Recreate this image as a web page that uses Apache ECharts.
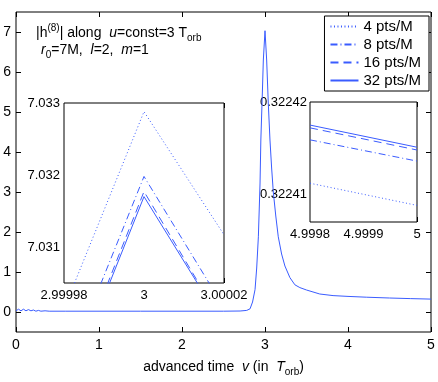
<!DOCTYPE html>
<html>
<head>
<meta charset="utf-8">
<script src="https://cdn.jsdelivr.net/npm/echarts@6/dist/echarts.min.js"></script>
<style>
html, body { margin: 0; padding: 0; background: #fff; }
#chart { width: 438px; height: 382px; }
</style>
</head>
<body>
<div id="chart"></div>
<script>
var FONT = '"Liberation Sans", Arial, sans-serif';
var LINE_COLOR = '#3a5cff';

// main plot: |h| along u = 3 T_orb (32 pts/M)
var mainV = [0, 0.03, 0.06, 0.09, 0.12, 0.15, 0.18, 0.21, 0.24, 0.27, 0.3, 0.35, 0.4, 0.6, 1.0, 1.5, 2.0, 2.5, 2.7, 2.78,
  2.82, 2.85, 2.88, 2.9, 2.92, 2.94, 2.95, 2.97, 2.98, 3.0, 3.02, 3.04, 3.06, 3.08, 3.1, 3.13, 3.16, 3.2, 3.24, 3.3,
  3.36, 3.42, 3.5, 3.66, 3.82, 4.0, 4.22, 4.5, 4.75, 5.0];
var mainH = [0.03, 0.07, 0.03, 0.07, 0.03, 0.06, 0.03, 0.05, 0.02, 0.04, 0.02, 0.03, 0.02, 0.02, 0.02, 0.02, 0.02, 0.02, 0.025, 0.04,
  0.08, 0.25, 0.56, 1.1, 1.88, 3.2, 4.3, 5.6, 6.3, 7.0317, 6.3, 5.2, 4.3, 3.6, 3.0, 2.4, 1.88, 1.45, 1.15, 0.86,
  0.68, 0.61, 0.55, 0.45, 0.41, 0.39, 0.37, 0.35, 0.335, 0.3224];
var mainXTicks = [0, 1, 2, 3, 4, 5];
var mainYTicks = [0, 1, 2, 3, 4, 5, 6, 7];

// inset near the peak, one array per resolution
var peakV = [2.99998, 3, 3.00002];
var peak4 = [7.03014, 7.03288, 7.03117];
var peak8 = [7.02922, 7.03198, 7.03016];
var peak16 = [7.02896, 7.03177, 7.02991];
var peak32 = [7.02891, 7.03170, 7.02990];
var peakXTicks = [2.99998, 3, 3.00002];
var peakYTicks = [7.031, 7.032, 7.033];

// inset at the end of the run
var tailV = [4.9998, 5];
var tail4 = [0.3224112, 0.3224088];
var tail8 = [0.3224159, 0.3224136];
var tail16 = [0.3224172, 0.3224148];
var tail32 = [0.3224175, 0.3224151];
var tailXTicks = [4.9998, 4.9999, 5];
var tailYTicks = [0.32241, 0.32242];

var resNames = ['4 pts/M', '8 pts/M', '16 pts/M', '32 pts/M'];
var resDash = [[1, 2.5], [7, 3, 1, 3], [8, 5], 'solid'];

function zip(xs, ys) {
  var out = [];
  for (var i = 0; i < xs.length; i++) out.push([xs[i], ys[i]]);
  return out;
}

function axis(grid, pos, min, max, ticks, labelSize, showLabel, margin) {
  return {
    type: 'value', gridIndex: grid, position: pos, min: min, max: max,
    axisLine: { show: false, onZero: false },
    splitLine: { show: false },
    axisTick: { customValues: ticks, inside: true, length: 5, lineStyle: { color: '#000' } },
    axisLabel: {
      show: showLabel, customValues: ticks, margin: margin,
      color: '#000', fontFamily: FONT, fontSize: labelSize
    }
  };
}

var chart = echarts.init(document.getElementById('chart'));

var series = [{
  name: '32 pts/M', type: 'line', xAxisIndex: 0, yAxisIndex: 0,
  symbol: 'none', data: zip(mainV, mainH),
  lineStyle: { color: LINE_COLOR, width: 1 }
}];
var peakSets = [peak4, peak8, peak16, peak32];
var tailSets = [tail4, tail8, tail16, tail32];
for (var i = 0; i < resNames.length; i++) {
  series.push({
    name: resNames[i], type: 'line', xAxisIndex: 2, yAxisIndex: 2,
    symbol: 'none', data: zip(peakV, peakSets[i]),
    itemStyle: { color: LINE_COLOR },
    lineStyle: { color: LINE_COLOR, width: 1, type: resDash[i] }
  });
  series.push({
    name: resNames[i], type: 'line', xAxisIndex: 4, yAxisIndex: 4,
    symbol: 'none', data: zip(tailV, tailSets[i]),
    itemStyle: { color: LINE_COLOR },
    lineStyle: { color: LINE_COLOR, width: 1, type: resDash[i] }
  });
}

var mainX = axis(0, 'bottom', 0, 5, mainXTicks, 14, true, 6);
mainX.name = '{n|advanced time  }{i|v}{n| (in  }{i|T}{s|orb}{n|)}';
mainX.nameLocation = 'middle';
mainX.nameGap = 25;
mainX.nameTextStyle = {
  color: '#000', fontFamily: FONT, fontSize: 14,
  rich: {
    n: { fontFamily: FONT, fontSize: 14, lineHeight: 20, color: '#000' },
    i: { fontFamily: FONT, fontSize: 14, lineHeight: 20, fontStyle: 'italic', color: '#000' },
    s: { fontFamily: FONT, fontSize: 10, lineHeight: 10, verticalAlign: 'bottom', color: '#000' }
  }
};

var annoRich = {
  n: { fontFamily: FONT, fontSize: 14, lineHeight: 20, color: '#000' },
  i: { fontFamily: FONT, fontSize: 14, lineHeight: 20, fontStyle: 'italic', color: '#000' },
  p: { fontFamily: FONT, fontSize: 10, lineHeight: 10, verticalAlign: 'top', color: '#000' },
  s: { fontFamily: FONT, fontSize: 10, lineHeight: 10, verticalAlign: 'bottom', color: '#000' }
};

chart.setOption({
  animation: false,
  backgroundColor: '#fff',
  grid: [
    { left: 16, top: 12, width: 415, height: 328, show: true, borderColor: '#000', borderWidth: 1, backgroundColor: '#fff' },
    { left: 64, top: 103, width: 160, height: 180, show: true, borderColor: '#000', borderWidth: 1, backgroundColor: '#fff', z: 3 },
    { left: 310, top: 102, width: 107, height: 120, show: true, borderColor: '#000', borderWidth: 1, backgroundColor: '#fff', z: 3 }
  ],
  xAxis: [
    mainX,
    axis(0, 'top', 0, 5, mainXTicks, 14, false, 6),
    axis(1, 'bottom', 2.99998, 3.00002, peakXTicks, 13, true, 6),
    axis(1, 'top', 2.99998, 3.00002, peakXTicks, 13, false, 6),
    axis(2, 'bottom', 4.9998, 5, tailXTicks, 13, true, 6),
    axis(2, 'top', 4.9998, 5, tailXTicks, 13, false, 6)
  ],
  yAxis: [
    axis(0, 'left', -0.5, 7.5, mainYTicks, 14, true, 5),
    axis(0, 'right', -0.5, 7.5, mainYTicks, 14, false, 5),
    axis(1, 'left', 7.0305, 7.033, peakYTicks, 13, true, 4),
    axis(1, 'right', 7.0305, 7.033, peakYTicks, 13, false, 4),
    axis(2, 'left', 0.322407, 0.32242, tailYTicks, 13, true, 3),
    axis(2, 'right', 0.322407, 0.32242, tailYTicks, 13, false, 3)
  ],
  legend: {
    data: resNames, orient: 'vertical', right: 9, top: 16,
    itemWidth: 28, itemHeight: 14, itemGap: 3, padding: [3, 8, 3, 5],
    borderColor: '#000', borderWidth: 1, backgroundColor: '#fff',
    itemStyle: { opacity: 0 },
    textStyle: { fontFamily: FONT, fontSize: 15, color: '#000' },
    selectedMode: false
  },
  graphic: [
    { type: 'text', left: 36, top: 23, style: { text: '{n||h}{p|(8)}{n|| along  }{i|u}{n|=const=3 T}{s|orb}', rich: annoRich } },
    { type: 'text', left: 41, top: 43, style: { text: '{i|r}{s|0}{n|=7M,  }{i|l}{n|=2,  }{i|m}{n|=1}', rich: annoRich } }
  ],
  series: series
});
</script>
</body>
</html>
